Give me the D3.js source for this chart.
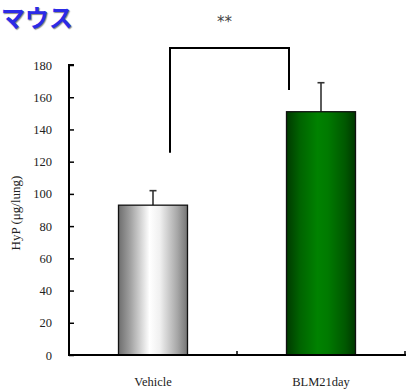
<!DOCTYPE html>
<html><head><meta charset="utf-8">
<script src="https://cdn.jsdelivr.net/npm/d3@7"></script>
<style>body{margin:0;background:#fff;}svg{display:block;}</style>
</head><body>
<script>
const categories = ["Vehicle", "BLM21day"];
const values = [93, 151];
const errors = [9, 18];
const yTicks = [0, 20, 40, 60, 80, 100, 120, 140, 160, 180];
const title = "マウス";
const yLabel = "HyP (μg/lung)";
const significance = "**";
const bracketLevels = [125.5, 190.5, 164.5]; // left foot, top, right foot

const W = 407, H = 389;
const svg = d3.select("body").append("svg").attr("width", W).attr("height", H);
const defs = svg.append("defs");
const g1 = defs.append("linearGradient").attr("id", "gGray").attr("x1", "0").attr("x2", "1");
[[0, "#6e6e6e"], [0.15, "#9a9a9a"], [0.45, "#ffffff"], [0.6, "#f0f0f0"], [0.85, "#a8a8a8"], [1, "#757575"]]
  .forEach(([o, c]) => g1.append("stop").attr("offset", o).attr("stop-color", c));
const g2 = defs.append("linearGradient").attr("id", "gGreen").attr("x1", "0").attr("x2", "1");
[[0, "#003a00"], [0.2, "#006400"], [0.45, "#008200"], [0.6, "#007a00"], [0.85, "#005800"], [1, "#003800"]]
  .forEach(([o, c]) => g2.append("stop").attr("offset", o).attr("stop-color", c));
const fills = ["url(#gGray)", "url(#gGreen)"];

const x = d3.scaleBand().domain(categories).range([69, 405]).paddingInner(0).paddingOuter(0);
const y = d3.scaleLinear().domain([0, 180]).range([355, 65]);
const barW = 69;

// title
svg.append("text").attr("x", 1).attr("y", 27)
  .attr("font-family", "'Noto Sans CJK JP'").attr("font-weight", "bold").attr("font-size", 24)
  .attr("fill", "#2b2be6").style("text-shadow", "1px 1px 1px #888").text(title);

// bars
categories.forEach((c, i) => {
  const cx = x(c) + x.bandwidth() / 2;
  svg.append("line").attr("x1", cx).attr("x2", cx).attr("y1", y(values[i])).attr("y2", y(values[i] + errors[i]))
    .attr("stroke", "#333").attr("stroke-width", 1.6);
  svg.append("line").attr("x1", cx - 3.5).attr("x2", cx + 3.5).attr("y1", y(values[i] + errors[i])).attr("y2", y(values[i] + errors[i]))
    .attr("stroke", "#333").attr("stroke-width", 1.6);
  svg.append("rect").attr("x", cx - barW / 2).attr("width", barW).attr("y", y(values[i])).attr("height", y(0) - y(values[i]))
    .attr("fill", fills[i]).attr("stroke", "#111").attr("stroke-width", 1.3);
});

// axes
const yAxis = svg.append("g").attr("transform", "translate(69,0)")
  .call(d3.axisLeft(y).tickValues(yTicks).tickSizeInner(-5).tickSizeOuter(0).tickPadding(17));
yAxis.select(".domain").attr("stroke", "#000").attr("stroke-width", 2);
yAxis.selectAll(".tick line").attr("stroke", "#000").attr("stroke-width", 1.5);
yAxis.selectAll("text").attr("font-family", "'Liberation Serif'").attr("font-size", 12.5).attr("fill", "#222");
yAxis.select(".domain").attr("d", `M0,${y(180)}V${y(0)+1}`);
svg.append("line").attr("x1", 68).attr("x2", 74).attr("y1", y(180)).attr("y2", y(180)).attr("stroke", "#000").attr("stroke-width", 2);

const xg = svg.append("g");
xg.append("line").attr("x1", 68).attr("x2", 406).attr("y1", y(0)).attr("y2", y(0)).attr("stroke", "#000").attr("stroke-width", 2);
categories.forEach(c => {
  const xr = x(c) + x.bandwidth();
  xg.append("line").attr("x1", xr).attr("x2", xr).attr("y1", y(0)).attr("y2", y(0) - 4).attr("stroke", "#000").attr("stroke-width", 1.5);
  xg.append("text").attr("x", x(c) + x.bandwidth() / 2).attr("y", 386).attr("text-anchor", "middle")
    .attr("font-family", "'Liberation Serif'").attr("font-size", 12.5).attr("fill", "#222").text(c);
});

// y label
svg.append("text").attr("transform", `translate(20,${y(90) + 3}) rotate(-90)`).attr("text-anchor", "middle")
  .attr("font-family", "'Liberation Serif'").attr("font-size", 13).attr("fill", "#222").text(yLabel);

// bracket
const bxL = x(categories[0]) + x.bandwidth() / 2 + 17;
const bxR = x(categories[1]) + x.bandwidth() / 2 - 32;
svg.append("path")
  .attr("d", `M${bxL},${y(bracketLevels[0])}V${y(bracketLevels[1])}H${bxR}V${y(bracketLevels[2])}`)
  .attr("fill", "none").attr("stroke", "#000").attr("stroke-width", 2);
svg.append("text").attr("x", (bxL + bxR) / 2 - 5).attr("y", 27).attr("text-anchor", "middle")
  .attr("font-family", "'DejaVu Sans'").attr("font-size", 15).attr("fill", "#444").text(significance);
</script>
</body></html>
